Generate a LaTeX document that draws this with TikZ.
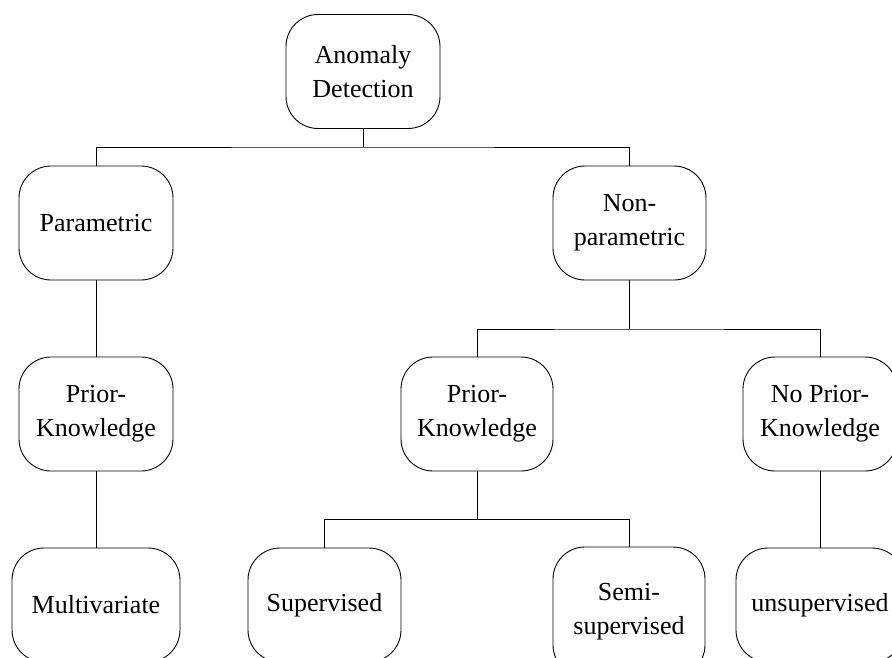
\documentclass[tikz,border=0pt]{standalone}
\usepackage{fontspec}
\setmainfont{Liberation Serif}
\begin{document}
\begin{tikzpicture}[x=1pt,y=-1pt,
  box/.style={draw=black, line width=0.9pt, rounded corners=32pt, rectangle,
    minimum width=154pt, minimum height=114pt, inner sep=0pt, align=center,
    font=\fontsize{26}{34}\selectfont},
  wide/.style={box, minimum width=168pt},
  link/.style={draw=black, line width=0.9pt}]
\clip (0,0) rectangle (892,657);
\fill[white] (0,0) rectangle (892,657);

% tree nodes
\node[box] (ad)   at (363,71.5)  {Anomaly\\Detection};
\node[box] (par)  at (96,223)    {Parametric};
\node[box, minimum width=153pt] (npar) at (629.5,223) {Non-\\parametric};
\node[box] (pk1)  at (96,414)    {Prior-\\Knowledge};
\node[box, minimum width=152pt] (pk2)  at (477,414) {Prior-\\Knowledge};
\node[box] (npk)  at (820,414)   {No Prior-\\Knowledge};
\node[wide] (mv)  at (96,605)    {Multivariate};
\node[box, minimum width=153pt] (sup)  at (324.5,605) {Supervised};
\node[box, minimum width=152pt, minimum height=130pt] (semi) at (629,612) {Semi-\\supervised};
\node[wide] (uns) at (820,605)   {unsupervised};

% junction points of the elbow connectors
\coordinate (j1) at (363,147);
\coordinate (j2) at (629.5,329);
\coordinate (j3) at (477,519);

\draw[link] (ad.south) -- (j1);
\draw[link] (par.north) |- (j1) -| (npar.north);
\draw[link] (par.south) -- (pk1.north);
\draw[link] (npar.south) -- (j2);
\draw[link] (pk2.north) |- (j2) -| (npk.north);
\draw[link] (pk1.south) -- (mv.north);
\draw[link] (pk2.south) -- (j3);
\draw[link] (sup.north) |- (j3) -| (semi.north);
\draw[link] (npk.south) -- (uns.north);
\end{tikzpicture}
\end{document}
